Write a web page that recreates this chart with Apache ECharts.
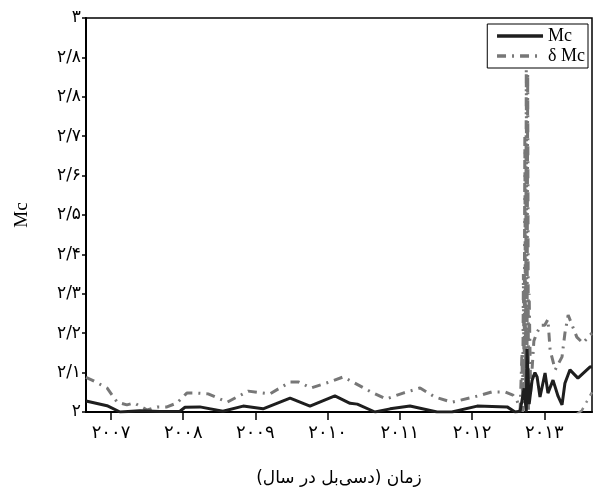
<!DOCTYPE html>
<html>
<head>
<meta charset="utf-8">
<script src="https://cdn.jsdelivr.net/npm/echarts@6/dist/echarts.min.js"></script>
<style>
html,body{margin:0;padding:0;background:#fff;}
#chart{width:596px;height:495px;}
</style>
</head>
<body>
<div id="chart"></div>
<script>
// Mc series: [year, value]
const mcYears = [2006.654,2006.945,2007.125,2007.40,2007.68,2007.955,2008.025,2008.23,2008.55,2008.83,2009.105,2009.48,2009.755,2010.10,2010.31,2010.41,2010.655,2010.865,2011.14,2011.515,2011.72,2012.07,2012.485,2012.595,2012.665,2012.72,2012.75,2012.76,2012.79,2012.83,2012.87,2012.90,2012.94,2013.01,2013.05,2013.12,2013.19,2013.245,2013.285,2013.355,2013.465,2013.63,2013.66];
const mcValues = [2.028,2.016,2.0,2.003,2.001,2.002,2.012,2.013,2.002,2.015,2.008,2.035,2.015,2.041,2.022,2.020,2.0,2.008,2.015,2.0,2.0,2.015,2.013,2.0,2.002,2.06,2.0,2.16,2.02,2.08,2.10,2.089,2.038,2.099,2.048,2.081,2.04,2.018,2.073,2.107,2.086,2.114,2.115];

// δ Mc upper band series
const dmcYears = [2006.654,2006.737,2006.945,2007.085,2007.22,2007.32,2007.50,2007.64,2007.775,2007.915,2008.05,2008.19,2008.345,2008.61,2008.90,2009.20,2009.48,2009.60,2009.77,2010.02,2010.215,2010.35,2010.60,2010.81,2011.045,2011.28,2011.485,2011.72,2012.025,2012.275,2012.455,2012.565,2012.62,2012.665,2012.69,2012.70,2012.71,2012.72,2012.73,2012.74,2012.75,2012.76,2012.77,2012.78,2012.79,2012.81,2012.855,2012.895,2012.95,2013.005,2013.05,2013.08,2013.15,2013.245,2013.285,2013.33,2013.45,2013.535,2013.63,2013.66];
const dmcValues = [2.088,2.081,2.061,2.025,2.018,2.023,2.005,2.013,2.013,2.023,2.048,2.048,2.046,2.025,2.053,2.046,2.076,2.076,2.061,2.076,2.089,2.076,2.051,2.033,2.048,2.061,2.038,2.025,2.038,2.051,2.051,2.043,2.030,2.005,2.15,2.0,2.35,2.02,2.70,2.05,2.87,2.10,2.86,2.0,2.30,2.05,2.18,2.2,2.22,2.22,2.235,2.157,2.107,2.14,2.2,2.246,2.19,2.175,2.195,2.2];

// δ Mc lower band (visible only at the end)
const lowYears = [2013.45,2013.52,2013.66];
const lowValues = [1.995,2.004,2.05];

const xTickValues = [2007,2008,2009,2010,2011,2012,2013];
const xTickLabels = ['۲۰۰۷','۲۰۰۸','۲۰۰۹','۲۰۱۰','۲۰۱۱','۲۰۱۲','۲۰۱۳'];
const yTickLabels = ['۲','۲/۱','۲/۲','۲/۳','۲/۴','۲/۵','۲/۶','۲/۷','۲/۸','۲/۸','۳'];

const seriesNames = ['Mc','δ Mc'];
const xName = 'زمان (دسی‌بل در سال)';
const yName = 'Mc';

const zip = (a,b) => a.map((v,i)=>[v,b[i]]);

const chart = echarts.init(document.getElementById('chart'));
const dashDot = [9,6,2,6];
chart.setOption({
  animation:false,
  backgroundColor:'#fff',
  grid:{left:86,right:4,top:18,bottom:83,show:true,borderColor:'#000',borderWidth:1.5,backgroundColor:'transparent'},
  legend:{
    right:8, top:24, orient:'vertical', itemWidth:46, itemHeight:10, itemGap:2,
    backgroundColor:'#fff', borderColor:'#000', borderWidth:1, borderRadius:0,
    padding:[3,3,3,8],
    itemStyle:{opacity:0},
    lineStyle:{width:3.5},
    textStyle:{fontFamily:'Liberation Serif', fontSize:18, color:'#000'},
    data:seriesNames
  },
  xAxis:{
    type:'value', min:2006.654, max:2013.66,
    name:xName, nameLocation:'middle', nameGap:58,
    nameTextStyle:{fontFamily:'DejaVu Sans', fontSize:17, color:'#000'},
    axisLine:{show:true,lineStyle:{color:'#000',width:2}},
    axisTick:{show:true, customValues:xTickValues, length:8, inside:false, lineStyle:{color:'#000',width:1.5}},
    axisLabel:{customValues:xTickValues, color:'#000', fontFamily:'DejaVu Sans', fontSize:18, margin:12,
      formatter:(v)=>{const i=xTickValues.indexOf(Math.round(v)); return i>=0?xTickLabels[i]:'';}},
    splitLine:{show:false}
  },
  yAxis:{
    type:'value', min:2, max:3, interval:0.1,
    name:yName, nameLocation:'middle', nameGap:54, nameRotate:90,
    nameTextStyle:{fontFamily:'Liberation Serif', fontSize:19, color:'#000'},
    axisLine:{show:true,lineStyle:{color:'#000',width:2}},
    axisTick:{show:true, length:4, lineStyle:{color:'#000',width:1.5}},
    axisLabel:{color:'#000', fontFamily:'DejaVu Sans', fontSize:17, margin:5,
      formatter:(v)=>yTickLabels[Math.round((v-2)*10)]},
    splitLine:{show:false}
  },
  series:[
    {name:seriesNames[0], type:'line', data:zip(mcYears,mcValues), symbol:'none', smooth:false, z:3,
      lineStyle:{color:'#1e1e1e', width:3}, itemStyle:{color:'#1e1e1e'}},
    {name:seriesNames[1], type:'line', data:zip(dmcYears,dmcValues), symbol:'none', z:2,
      lineStyle:{color:'#777', width:3, type:dashDot}, itemStyle:{color:'#777'}},
    {name:'lower', type:'line', data:zip(lowYears,lowValues), symbol:'none', z:2,
      lineStyle:{color:'#888', width:2.5, type:dashDot}}
  ]
});
</script>
</body>
</html>
